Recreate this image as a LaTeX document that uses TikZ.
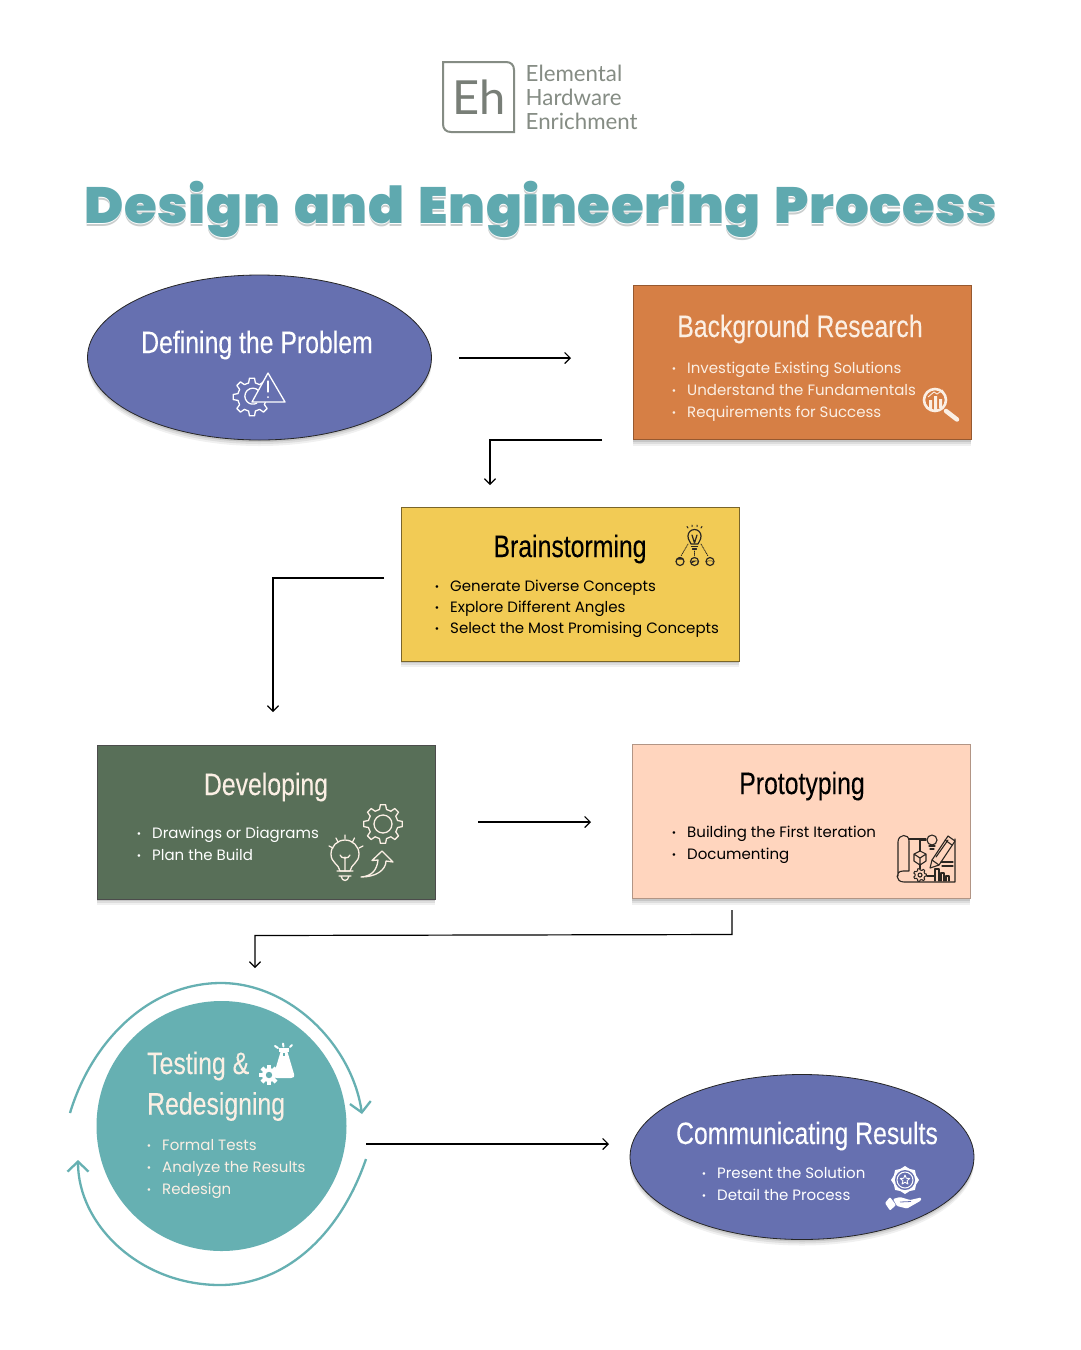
\documentclass[tikz,border=0pt]{standalone}
\usepackage{fontspec}
\usetikzlibrary{arrows.meta,shapes.geometric,calc}
\setmainfont{Poppins}
\newfontfamily\bodyf{Poppins}
\newfontfamily\logof{Lato}
\newfontfamily\titlef[FakeStretch=1.04,LetterSpace=1,WordSpace=1.5]{Poppins Black}
\newfontfamily\headf[FakeStretch=0.80,FakeBold=0.12]{Liberation Sans}
\definecolor{blueviolet}{HTML}{6670B0}
\definecolor{orangebox}{HTML}{D67F45}
\definecolor{yellowbox}{HTML}{F2CB55}
\definecolor{greenbox}{HTML}{586F58}
\definecolor{peachbox}{HTML}{FFD5BE}
\definecolor{tealbox}{HTML}{66B0B2}
\definecolor{titleteal}{HTML}{5FA9AF}
\definecolor{logogray}{HTML}{858C84}
\definecolor{cream}{HTML}{FBEFE4}
\definecolor{dk}{HTML}{2A2622}
\definecolor{shadeA}{HTML}{C9CDCD}
\tikzset{
  softshadow/.style={
    preaction={fill=black,opacity=.10,transform canvas={yshift=-2pt}},
    preaction={fill=black,opacity=.08,transform canvas={yshift=-4pt}},
    preaction={fill=black,opacity=.06,transform canvas={yshift=-6pt}}},
  rbox/.style={rectangle,draw=#1,line width=.9pt,minimum width=338pt,minimum height=154pt,inner sep=0pt,softshadow},
  ell/.style={ellipse,draw=black!85,line width=.8pt,fill=blueviolet,minimum width=344pt,minimum height=165pt,inner sep=0pt,softshadow},
  headtxt/.style={font=\headf\fontsize{31}{35}\selectfont,inner sep=0pt},
  bodytxt/.style={font=\bodyf\fontsize{15}{18}\selectfont,anchor=base west,inner sep=0pt},
  flow/.style={draw=black,line width=1.2pt,-{Straight Barb[length=5.5pt,width=11pt,line width=1.2pt]}},
  cyc/.style={draw=tealbox,line width=2.3pt,-{Straight Barb[length=10pt,width=21pt,line width=2.3pt]}},
  icon/.style={line width=1.3pt,line join=round,line cap=round},
  logotxt/.style={font=\logof\fontsize{22.3}{24}\selectfont,text=logogray,anchor=base west,inner sep=0pt},
}
\newcommand{\blt}{\makebox[0pt][r]{\raisebox{1pt}{\scalebox{.7}{•}}\hspace{11pt}}}
\newcommand{\gearline}[6]{%
  \begin{scope}[shift={(#1,#2)}]
    \pgfmathsetmacro{\stp}{360/#5}
    \foreach \ii in {1,...,#5}{
      \pgfmathsetmacro{\aa}{\ii*\stp}
      \draw[#6] (\aa-.30*\stp:#4) -- (\aa-.17*\stp:#3) -- (\aa+.17*\stp:#3) -- (\aa+.30*\stp:#4) -- (\aa+.70*\stp:#4);
    }
  \end{scope}}
\newcommand{\ttl}{Design and Engineering Process}
\begin{document}
\begin{tikzpicture}[x=1pt,y=-1pt]
\useasboundingbox (0,0) rectangle (1080,1350);
\fill[white] (0,0) rectangle (1080,1350);

%% logo
\draw[logogray,line width=2pt,line join=miter] (443,62) -- (506,62) .. controls (511,62) and (514,65) .. (514,70) -- (514,132) -- (451,132) .. controls (446,132) and (443,129) .. (443,124) -- cycle;
\node[inner sep=0pt,font=\logof\fontsize{47}{50}\selectfont,text=logogray!90!black] (logoEh) at (479,97) {Eh};
\node[logotxt] (logoA) at (525.5,81) {Elemental};
\node[logotxt] (logoB) at (525.5,105) {Hardware};
\node[logotxt] (logoC) at (525.5,129) {Enrichment};

%% title: one node, the soft edge set under the letters
\node[inner sep=0pt,anchor=base,font=\titlef\fontsize{51}{56}\selectfont,text=titleteal] (title) at (541,223) {%
  \makebox[0pt][l]{\raisebox{-3pt}{\textcolor{shadeA}{\ttl}}}%
  \makebox[0pt][l]{\raisebox{-1pt}{\textcolor{white}{\ttl}}}%
  \ttl};

%% shapes
\node[ell] (problem) at (259.5,357.5) {};
\node[rbox=orangebox!70!black,fill=orangebox] (research) at (802,362.5) {};
\node[rbox=yellowbox!50!black,fill=yellowbox] (brain) at (570,584) {};
\node[rbox=black!70,fill=greenbox] (devel) at (266,822) {};
\node[rbox=peachbox!70!black,fill=peachbox] (proto) at (801,821.5) {};
\node[circle,fill=tealbox,minimum size=250pt,inner sep=0pt] (test) at (221.5,1126) {};
\node[ell] (comm) at (802,1157) {};

%% headings
\node[headtxt,text=white] (hProblem) at (257,345) {Defining the Problem};
\node[headtxt,text=cream] (hResearch) at (800,329) {Background Research};
\node[headtxt,text=black] (hBrain) at (570,549) {Brainstorming};
\node[headtxt,text=cream] (hDevel) at (266,787) {Developing};
\node[headtxt,text=black] (hProto) at (802,786) {Prototyping};
\node[headtxt,text=cream,anchor=base west] (hTestA) at (147,1074) {Testing \&};
\node[headtxt,text=cream,anchor=base west] (hTestB) at (147,1114.5) {Redesigning};
\node[headtxt,text=white] (hComm) at (807,1136) {Communicating Results};

%% body text
\node[bodytxt,text=cream] (r1) at (687,373.5) {\blt Investigate Existing Solutions};
\node[bodytxt,text=cream] (r2) at (687,395.5) {\blt Understand the Fundamentals};
\node[bodytxt,text=cream] (r3) at (687,417.5) {\blt Requirements for Success};
\node[bodytxt,text=black] (b1) at (450,591.5) {\blt Generate Diverse Concepts};
\node[bodytxt,text=black] (b2) at (450,612.5) {\blt Explore Different Angles};
\node[bodytxt,text=black] (b3) at (450,633.5) {\blt Select the Most Promising Concepts};
\node[bodytxt,text=white] (d1) at (152,838.5) {\blt Drawings or Diagrams};
\node[bodytxt,text=white] (d2) at (152,860.5) {\blt Plan the Build};
\node[bodytxt,text=black] (p1) at (687,837.5) {\blt Building the First Iteration};
\node[bodytxt,text=black] (p2) at (687,859.5) {\blt Documenting};
\node[bodytxt,text=cream] (t1) at (162,1150.5) {\blt Formal Tests};
\node[bodytxt,text=cream] (t2) at (162,1172.5) {\blt Analyze the Results};
\node[bodytxt,text=cream] (t3) at (162,1194.5) {\blt Redesign};
\node[bodytxt,text=white] (c1) at (717,1178.5) {\blt Present the Solution};
\node[bodytxt,text=white] (c2) at (717,1200.5) {\blt Detail the Process};

%% connectors
\coordinate (a1s) at (459,358); \coordinate (a1e) at (571,358);
\draw[flow] (a1s) -- (a1e);
\coordinate (a2s) at (602,440); \coordinate (a2m) at (490,440); \coordinate (a2e) at (490,485);
\draw[flow] (a2s) -- (a2m) -- (a2e);
\coordinate (a3s) at (384,578); \coordinate (a3m) at (273,578); \coordinate (a3e) at (273,712);
\draw[flow] (a3s) -- (a3m) -- (a3e);
\coordinate (a4s) at (478,822); \coordinate (a4e) at (591,822);
\draw[flow] (a4s) -- (a4e);
\coordinate (a5s) at (732,910); \coordinate (a5a) at (732,934.5); \coordinate (a5b) at (255,935.5); \coordinate (a5e) at (255,968);
\draw[flow] (a5s) -- (a5a) -- (a5b) -- (a5e);
\coordinate (a6s) at (366,1144); \coordinate (a6e) at (609,1144);
\draw[flow] (a6s) -- (a6e);
\coordinate (cyA) at (70,1113); \coordinate (cyAm) at (221,983); \coordinate (cyAe) at (362,1114);
\draw[cyc] (cyA) .. controls (92,1040) and (150,983) .. (cyAm) .. controls (290,983) and (352,1045) .. (cyAe);
\coordinate (cyB) at (366,1159); \coordinate (cyBm) at (220,1285); \coordinate (cyBe) at (78,1160);
\draw[cyc] (cyB) .. controls (340,1235) and (285,1285) .. (cyBm) .. controls (140,1285) and (78,1225) .. (cyBe);

%% icon: problem
\gearline{252}{397}{19}{14.5}{8}{icon,white}
\draw[icon,white] (258.5,390.5) arc[start angle=-45,end angle=-300,radius=8];
\draw[icon,white,fill=blueviolet] (268,373) -- (285,402) -- (252,402) -- cycle;
\draw[icon,white] (268,381) -- (268,392);
\fill[white] (268,397) circle (1pt);

%% icon: magnifier
\draw[cream,line width=2.6pt] (935,400) circle (11pt);
\draw[cream,line width=4.5pt,line cap=round] (946,411) -- (957,419.5);
\fill[cream] (929,400) rectangle (932,409) (934,396) rectangle (937,410) (939,399) rectangle (942,408);
\draw[cream,line width=.9pt] (928,397) -- (934,392) -- (937,394) -- (943,390);

%% icon: brainstorm
\begin{scope}[line width=1.2pt,line cap=round,line join=round,draw=dk]
\draw (691,544) .. controls (690,541) and (688,540) .. (688,536) arc[start angle=180,end angle=360,radius=6.5] .. controls (701,540) and (699,541) .. (698,544) -- cycle;
\draw (691.5,546.5) -- (697.5,546.5) (692.5,549) -- (696.5,549);
\draw (692,535) -- (694.5,543) -- (697,535);
\draw[line width=.8pt,densely dotted] (688,544) -- (681,556) (694.5,551) -- (694.5,556) (701,544) -- (708,556);
\draw[line width=1pt] (688,528) -- (687,526.5) (692,526.5) -- (692,525) (697,526.5) -- (697,525) (701,528) -- (702,526.5);
\draw[fill=yellowbox] (680,561.5) circle (4pt);
\draw[fill=yellowbox] (694.5,561.5) circle (4pt);
\draw[fill=yellowbox] (710,561.5) circle (4pt);
\fill[dk] (676,559.5) arc[start angle=210,end angle=330,radius=4.6] -- cycle;
\fill[dk] (690.5,563) arc[start angle=200,end angle=360,radius=4.2] -- (697,560.5) -- (692,563) -- cycle;
\fill[dk] (706,563) arc[start angle=200,end angle=360,radius=4.2] -- (712,561) -- (708,561) -- cycle;
\end{scope}

%% icon: developing
\gearline{383}{824}{19.5}{15}{8}{icon,cream}
\draw[icon,cream] (383,824) circle (9pt);
\draw[icon,cream] (340,871) .. controls (339,864) and (331,863) .. (331,854) arc[start angle=180,end angle=360,radius=14] .. controls (359,863) and (351,864) .. (350,871) -- cycle;
\draw[icon,cream] (337,871) -- (353,871) (339,876) -- (351,876) (341,876) .. controls (342,882) and (348,882) .. (349,876);
\draw[icon,cream] (345,871) -- (345,857) (340,855) .. controls (341,859) and (349,859) .. (350,855);
\draw[icon,cream] (345,835) -- (345,838.5) (336,838) -- (338,842) (354.5,838) -- (352.5,842) (329,846) -- (333,848) (363,846) -- (359,848);
\draw[icon,cream] (361,877) .. controls (372,876) and (377,870) .. (378,860) -- (372,860.5) -- (382,851) -- (393,862) -- (386,861) .. controls (386,870) and (376,877) .. (361,877) -- cycle;

%% icon: blueprint
\begin{scope}[line width=1.1pt,line join=round,line cap=round,draw=dk]
\draw (955,839) -- (955,882) -- (904,882) .. controls (895,882) and (895,871) .. (903,871) -- (909,871) -- (909,841) .. controls (909,833) and (898,834) .. (898,842) -- (898,876);
\draw (909,839) -- (926,839);
\draw (932,840) circle (5pt); \draw (929,846) -- (935,846) (930,849) -- (934,849);
\draw (926,840) -- (920,840) -- (920,851);
\draw (920,851) -- (926,854) -- (926,861) -- (920,865) -- (914,861) -- (914,854) -- cycle (914,854) -- (920,858) -- (926,854) (920,858) -- (920,865);
\draw (920,865) -- (920,869);
\gearline{920}{875}{6.5}{5}{7}{line width=1pt,dk}
\draw (920,875) circle (2pt);
\draw (927,876) -- (934,876);
\draw (935,881) -- (935,869) -- (939,869) -- (939,881) (941,881) -- (941,873) -- (944,873) -- (944,881) (946,881) -- (946,876) -- (949,876) -- (949,881);
\draw[fill=peachbox] (930,868) -- (932,860) -- (948,836) -- (955,841) -- (939,865) -- cycle;
\draw (932,860) -- (939,865) (945,840) -- (952,845) (936,857) -- (948,840);
\draw (941,862) -- (953,862) (942,866) -- (953,866);
\end{scope}

%% icon: flask and gear
\fill[white] (279,1048) rectangle (289,1052);
\fill[white] (280.5,1052) -- (287.5,1052) -- (294,1074) .. controls (295,1077) and (293,1078) .. (291,1078) -- (277,1078) .. controls (275,1078) and (273,1077) .. (274,1074) -- cycle;
\fill[tealbox] (283,1053) rectangle (285,1056);
\draw[white,line width=2pt,line cap=round] (275,1046) -- (278,1048) (283,1043.5) -- (283.5,1046.5) (290,1047) -- (292,1045);
\fill[white] (269,1075) circle (7pt);
\foreach \aa in {0,45,...,315}{\fill[white,rotate around={\aa:(269,1075)}] (267,1065) rectangle (271,1070);}
\fill[tealbox] (269,1075) circle (3.2pt);

%% icon: award
\begin{scope}[shift={(905,1180)}]
\fill[white] (0:14) -- (22.5:12) -- (45:14) -- (67.5:12) -- (90:14) -- (112.5:12) -- (135:14) -- (157.5:12) -- (180:14) -- (202.5:12) -- (225:14) -- (247.5:12) -- (270:14) -- (292.5:12) -- (315:14) -- (337.5:12) -- cycle;
\fill[blueviolet] (0,0) circle (10pt);
\draw[white,line width=1pt] (0,0) circle (8pt);
\draw[white,line width=.9pt,line join=round] (-90:5) -- (-54:2.2) -- (-18:5) -- (18:2.2) -- (54:5) -- (90:2.2) -- (126:5) -- (162:2.2) -- (198:5) -- (234:2.2) -- cycle;
\end{scope}
\fill[white,rounded corners=1pt] (885,1203) -- (890,1197) -- (896,1205) -- (890,1210.5) -- cycle;
\fill[white,rounded corners=1pt] (893,1199) -- (900,1197) -- (910,1200) -- (921,1197.5) -- (921,1200.5) -- (907,1208.5) -- (897,1206) -- cycle;
\draw[blueviolet,line width=.8pt] (900,1202) -- (911,1201.5);
\end{tikzpicture}
\end{document}
